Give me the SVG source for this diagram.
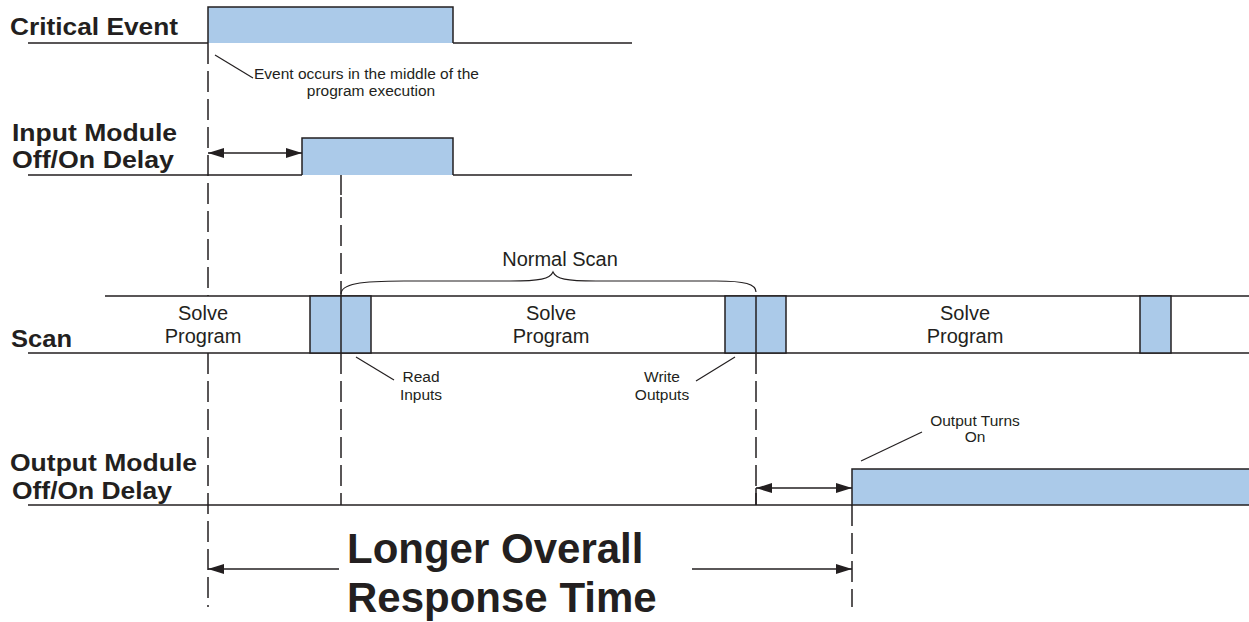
<svg xmlns="http://www.w3.org/2000/svg" width="1249" height="622" viewBox="0 0 1249 622">
<defs>
<style>
.ln{stroke:#231f20;stroke-width:1.5;fill:none}
.dash{stroke:#231f20;stroke-width:1.5;fill:none;stroke-dasharray:21 7}
.thin{stroke:#231f20;stroke-width:1.2;fill:none}
.pulse{fill:#abcae9;stroke:#231f20;stroke-width:1.5}
.lbl{font-family:"Liberation Sans",Arial,sans-serif;font-weight:bold;font-size:24px;fill:#231f20}
.big{font-family:"Liberation Sans",Arial,sans-serif;font-weight:bold;font-size:42px;fill:#231f20}
.mid{font-family:"Liberation Sans",Arial,sans-serif;font-size:20px;fill:#231f20;text-anchor:middle}
.sm{font-family:"Liberation Sans",Arial,sans-serif;font-size:15.5px;fill:#231f20}
.arr{stroke:#231f20;stroke-width:1.5;fill:none;marker-start:url(#ah);marker-end:url(#ah)}
</style>
<marker id="ah" viewBox="0 0 16 10" refX="16" refY="5" markerWidth="16" markerHeight="10" markerUnits="userSpaceOnUse" orient="auto-start-reverse">
<path d="M0,0 L16,5 L0,10 Z" fill="#231f20"/>
</marker>
</defs>

<g id="critical-event">
<text class="lbl" x="10" y="35" textLength="168" lengthAdjust="spacingAndGlyphs">Critical Event</text>
<path class="ln" d="M28,43 H208 M453,43 H632"/>
<path d="M208,43 V7 H453 V43 Z" fill="#abcae9"/>
<path class="ln" d="M208,43 V7 H453 V43"/>
<text class="sm" x="254" y="79">Event occurs in the middle of the</text>
<text class="sm" x="371" y="96" text-anchor="middle">program execution</text>
</g>

<g id="input-module">
<text class="lbl" x="12" y="141" textLength="165" lengthAdjust="spacingAndGlyphs">Input Module</text>
<text class="lbl" x="12" y="168" textLength="162" lengthAdjust="spacingAndGlyphs">Off/On Delay</text>
<path class="ln" d="M28,175 H302 M453,175 H632"/>
<path d="M302,175 V138 H453 V175 Z" fill="#abcae9"/>
<path class="ln" d="M302,175 V138 H453 V175"/>
</g>

<g id="scan">
<text class="lbl" x="11" y="347" textLength="61" lengthAdjust="spacingAndGlyphs">Scan</text>
<path class="ln" d="M105,296 H1249 M28,353 H1249"/>
<rect x="310" y="296" width="61" height="57" class="pulse"/>
<rect x="725" y="296" width="61" height="57" class="pulse"/>
<rect x="1140" y="296" width="31" height="57" class="pulse"/>
<path class="ln" d="M341,296 V353 M756,296 V353"/>
<text class="mid" x="203" y="320">Solve</text>
<text class="mid" x="203" y="343">Program</text>
<text class="mid" x="551" y="320">Solve</text>
<text class="mid" x="551" y="343">Program</text>
<text class="mid" x="965" y="320">Solve</text>
<text class="mid" x="965" y="343">Program</text>
<text class="mid" x="560" y="266">Normal Scan</text>
<text class="sm" x="421" y="382" text-anchor="middle">Read</text>
<text class="sm" x="421" y="400" text-anchor="middle">Inputs</text>
<text class="sm" x="662" y="382" text-anchor="middle">Write</text>
<text class="sm" x="662" y="400" text-anchor="middle">Outputs</text>
</g>

<g id="output-module">
<text class="lbl" x="10" y="471" textLength="187" lengthAdjust="spacingAndGlyphs">Output Module</text>
<text class="lbl" x="12" y="499" textLength="160" lengthAdjust="spacingAndGlyphs">Off/On Delay</text>
<path class="ln" d="M28,505 H852"/>
<rect x="852" y="469" width="400" height="36" class="pulse"/>
<text class="sm" x="975" y="426" text-anchor="middle">Output Turns</text>
<text class="sm" x="975" y="442" text-anchor="middle">On</text>
</g>

<g id="response-time">
<text class="big" x="347" y="563">Longer Overall</text>
<text class="big" x="347" y="612">Response Time</text>
</g>

<g id="connectors">
<path class="dash" d="M208,43 V296"/>
<path class="dash" d="M208,353 V607"/>
<path class="ln" d="M341,175 V195"/>
<path class="dash" d="M341,197 V296"/>
<path class="dash" d="M341,353 V505"/>
<path class="dash" d="M756,353 V505"/>
<path class="dash" d="M852,505 V607"/>
<path class="thin" d="M341,294 C341,284 360,281 404,281 L510,281 C540,281 550,279 553,272 C556,279 566,281 596,281 L716,281 C745,281 756,284 756,292"/>
<path class="thin" d="M215,55 L253,78"/>
<path class="thin" d="M356,357 L394,380"/>
<path class="thin" d="M696,381 L735,357"/>
<path class="thin" d="M922,432 L861,461"/>
<path class="arr" d="M208,153 H302"/>
<path class="arr" d="M756,488 H852"/>
<path class="ln" d="M756,488 V505"/>
<path class="ln" marker-start="url(#ah)" d="M208,569 H339"/>
<path class="ln" marker-end="url(#ah)" d="M692,569 H852"/>
</g>
</svg>
